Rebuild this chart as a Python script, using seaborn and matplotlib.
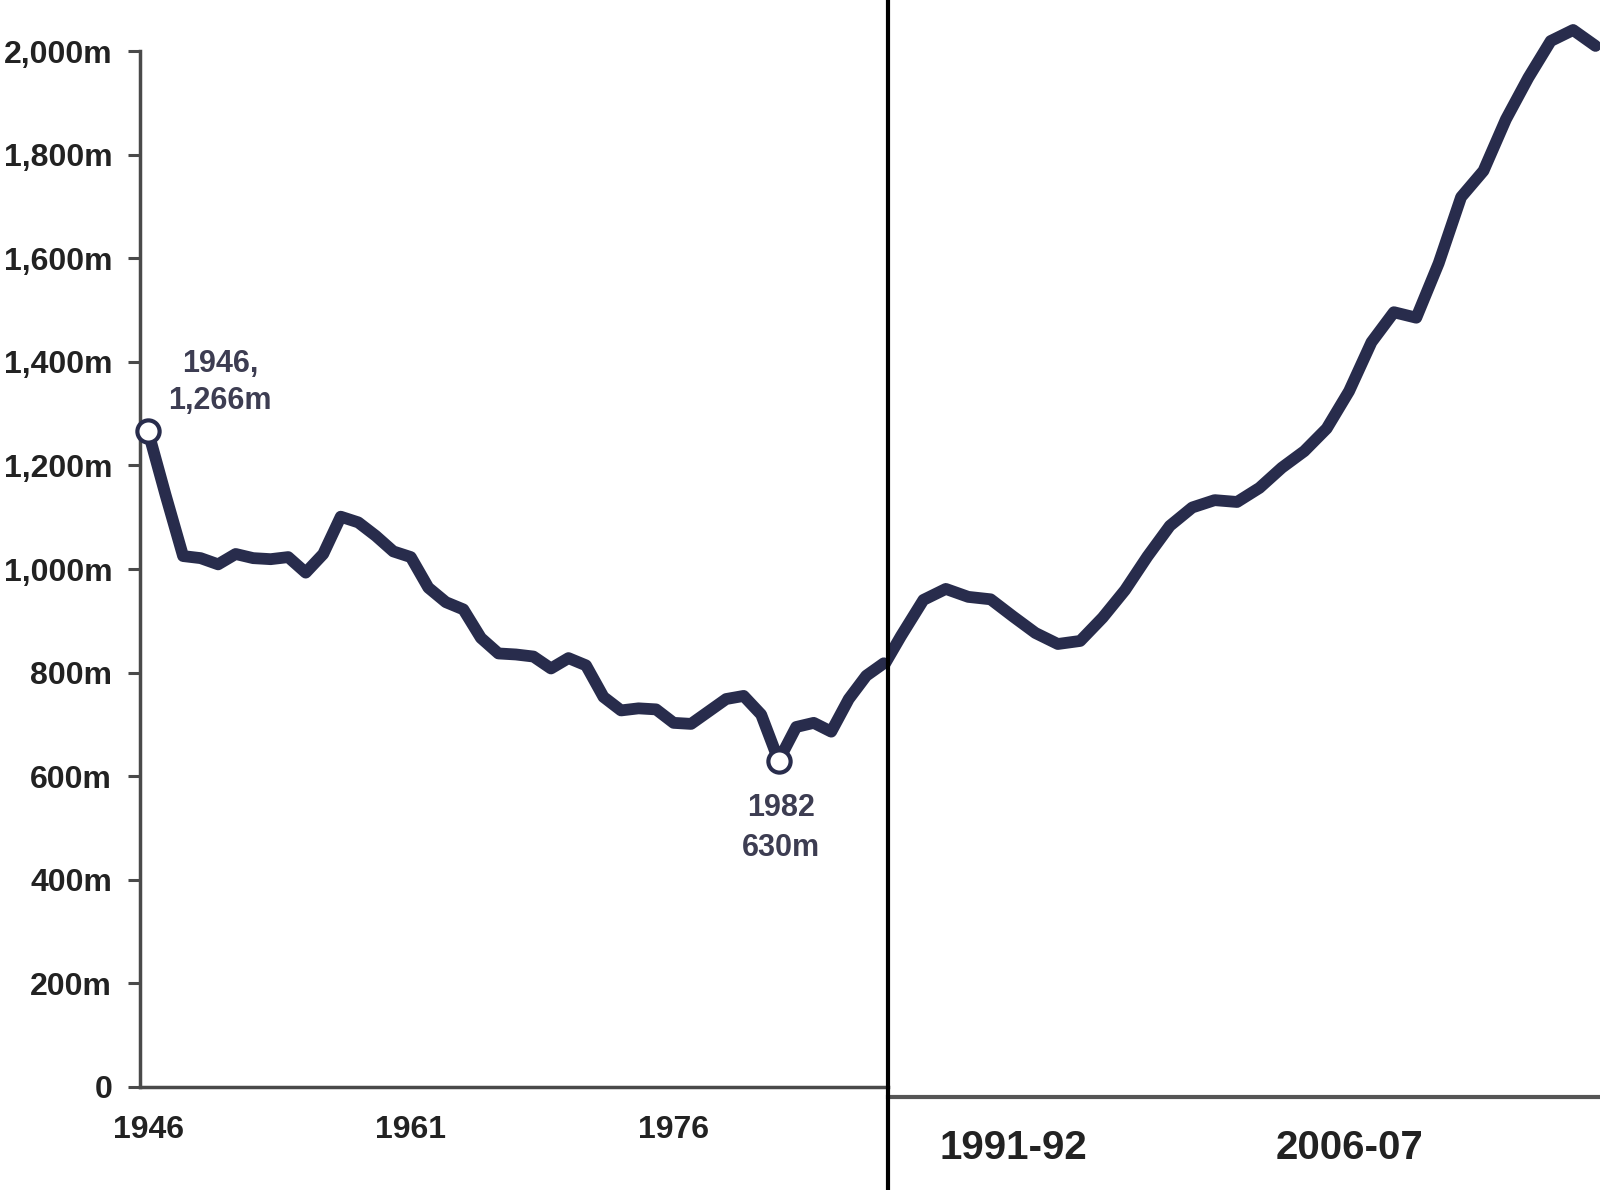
import matplotlib
matplotlib.use("Agg")
import matplotlib.pyplot as plt
from matplotlib.lines import Line2D
import seaborn as sns
import pandas as pd

# Passenger journeys, millions: calendar years 1946-1988
left_years = list(range(1946, 1989))
left_values = [1266, 1143, 1025, 1021, 1009, 1029, 1021, 1019, 1023, 993,
               1029, 1101, 1090, 1064, 1034, 1023, 964, 936, 922, 867,
               837, 835, 831, 808, 828, 814, 753, 727, 731, 729,
               703, 701, 725, 749, 755, 719, 630, 695, 703, 686,
               749, 794, 818]
left_ticks = [1946, 1961, 1976]
left_tick_labels = ["1946", "1961", "1976"]
y_ticks = [0, 200, 400, 600, 800, 1000, 1200, 1400, 1600, 1800, 2000]
y_tick_labels = ["0", "200m", "400m", "600m", "800m", "1,000m", "1,200m",
                 "1,400m", "1,600m", "1,800m", "2,000m"]

# Passenger journeys, millions: financial years 1985-86 to 2017-18
right_years = list(range(1985, 2018))
right_values = [690, 753, 812, 830, 817, 813, 785, 758, 740, 745,
                783, 828, 883, 933, 963, 975, 972, 995, 1028, 1055,
                1092, 1153, 1233, 1282, 1273, 1362, 1470, 1513, 1597, 1665,
                1725, 1743, 1717]
right_ticks = [1991, 2006]
right_tick_labels = ["1991-92", "2006-07"]

NAVY = "#282c4c"
AXIS = "#4a4a4a"
TEXT = "#222222"
NOTE = "#3d3d52"

sns.set_theme(style="white")
plt.rcParams["font.family"] = ["Liberation Sans", "DejaVu Sans"]

W, H = 1600, 1190
fig = plt.figure(figsize=(W / 100, H / 100), dpi=100)
fig.patch.set_facecolor("white")


def rect(x0, y0, x1, y1):
    return [x0 / W, 1 - y1 / H, (x1 - x0) / W, (y1 - y0) / H]


axL = fig.add_axes(rect(140, 0, 888, 1087))
axR = fig.add_axes(rect(888, 0, 1600, 1097))

df_left = pd.DataFrame({"year": left_years, "journeys": left_values})
df_right = pd.DataFrame({"year": right_years, "journeys": right_values})

# ---- left panel -------------------------------------------------------
sns.lineplot(data=df_left, x="year", y="journeys", ax=axL, color=NAVY,
             linewidth=8.5, solid_joinstyle="round", solid_capstyle="round")
axL.set_xlim(1945.54, 1988.24)
axL.set_ylim(0, 2098.5)
axL.set_xlabel("")
axL.set_ylabel("")
for side in ("top", "right"):
    axL.spines[side].set_visible(False)
for side in ("left", "bottom"):
    axL.spines[side].set_color(AXIS)
    axL.spines[side].set_linewidth(2.5)
axL.spines["left"].set_bounds(0, 2000)
axL.set_yticks(y_ticks)
axL.set_yticklabels(y_tick_labels, fontsize=23, fontweight="bold", color=TEXT)
axL.set_xticks(left_ticks)
axL.set_xticklabels(left_tick_labels, fontsize=23, fontweight="bold", color=TEXT)
axL.tick_params(axis="y", length=9, width=2.2, color=AXIS, pad=11, left=True)
axL.tick_params(axis="x", length=0, pad=20)
axL.set_facecolor("white")

# highlighted points
first_year, first_val = left_years[0], left_values[0]
low_idx = left_values.index(min(left_values))
low_year, low_val = left_years[low_idx], left_values[low_idx]
axL.plot([first_year, low_year], [first_val, low_val], linestyle="none",
         marker="o", markersize=16, markerfacecolor="white",
         markeredgecolor=NAVY, markeredgewidth=3, zorder=5, clip_on=False)

axL.annotate(f"{first_year},\n{first_val:,}m", xy=(first_year, first_val),
             xytext=(52, 35), textcoords="offset points", ha="center",
             va="center", fontsize=22, fontweight="bold", color=NOTE,
             linespacing=1.3)
axL.annotate(f"{low_year}\n{low_val}m", xy=(low_year, low_val),
             xytext=(1.5, -48.5), textcoords="offset points", ha="center",
             va="center", fontsize=22, fontweight="bold", color=NOTE,
             linespacing=1.42)

# ---- right panel ------------------------------------------------------
sns.lineplot(data=df_right, x="year", y="journeys", ax=axR, color=NAVY,
             linewidth=8.5, solid_joinstyle="round", solid_capstyle="round")
axR.set_xlim(1985.42, 2017.2)
axR.set_ylim(0, 1792)
axR.set_xlabel("")
axR.set_ylabel("")
for side in ("top", "right", "left"):
    axR.spines[side].set_visible(False)
axR.spines["bottom"].set_color("#555555")
axR.spines["bottom"].set_linewidth(3)
axR.set_yticks([])
axR.set_xticks(right_ticks)
axR.set_xticklabels(right_tick_labels, fontsize=29, fontweight="bold", color=TEXT)
axR.tick_params(axis="x", length=0, pad=23)
axR.set_facecolor("none")

# divider between the two panels
fig.add_artist(Line2D([888 / W, 888 / W], [0, 1], color="black",
                      linewidth=3, transform=fig.transFigure, zorder=10))

fig.savefig("out.png", dpi=100, facecolor="white")
